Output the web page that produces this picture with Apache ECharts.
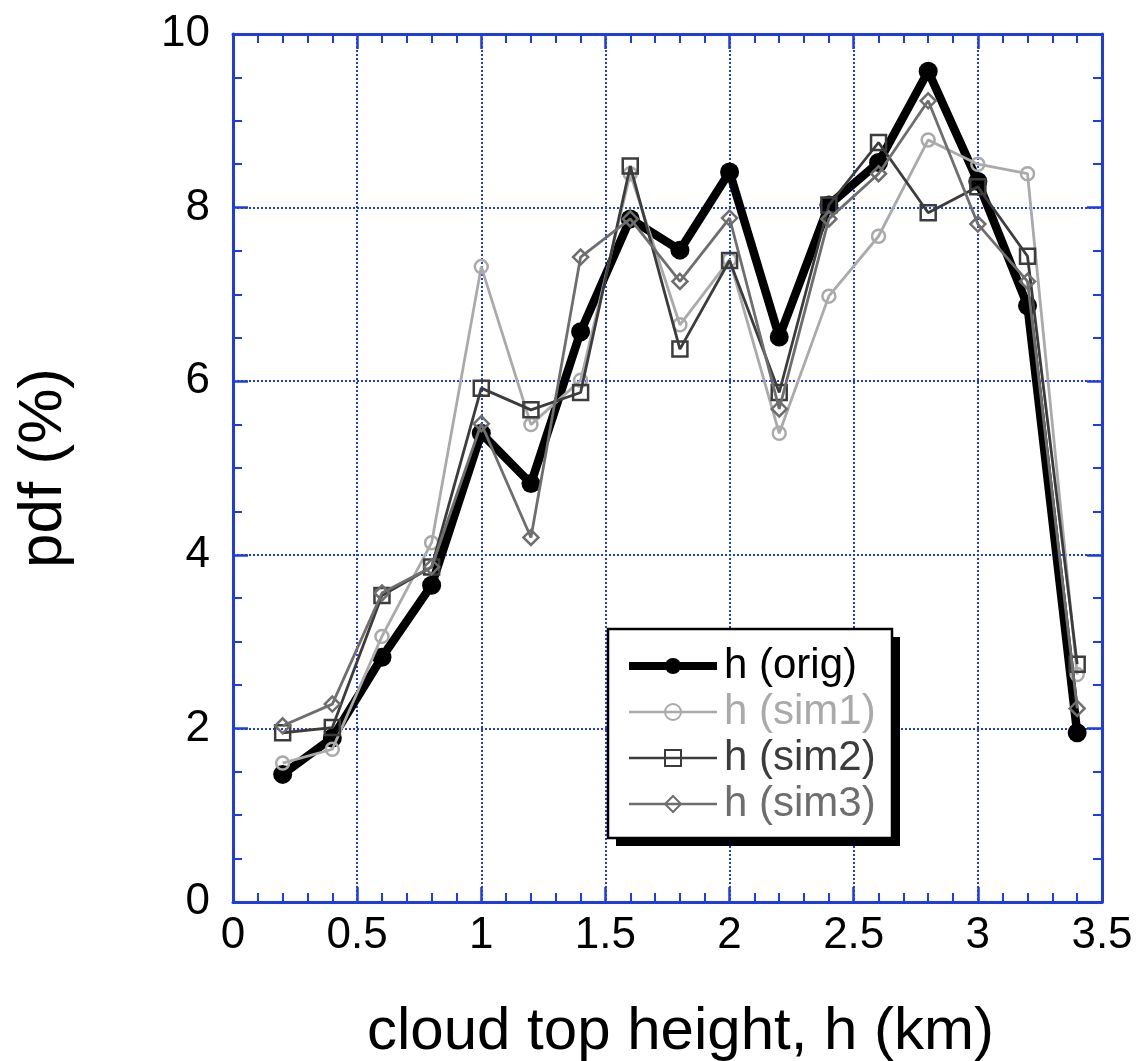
<!DOCTYPE html>
<html>
<head>
<meta charset="utf-8">
<script src="https://cdn.jsdelivr.net/npm/echarts@6/dist/echarts.min.js"></script>
<style>
html,body{margin:0;padding:0;background:#fff;}
#chart{width:1141px;height:1061px;}
</style>
</head>
<body>
<div id="chart"></div>
<script>
// cloud top height (km)
const heights = [0.2, 0.4, 0.6, 0.8, 1.0, 1.2, 1.4, 1.6, 1.8, 2.0, 2.2, 2.4, 2.6, 2.8, 3.0, 3.2, 3.4];
// pdf (%)
const hOrig = [1.47, 1.89, 2.82, 3.65, 5.40, 4.82, 6.57, 7.87, 7.51, 8.41, 6.51, 8.03, 8.52, 9.57, 8.30, 6.87, 1.95];
const hSim1 = [1.60, 1.76, 3.06, 4.14, 7.32, 5.50, 6.01, 8.39, 6.65, 7.40, 5.40, 6.98, 7.67, 8.78, 8.50, 8.39, 2.62];
const hSim2 = [1.95, 2.01, 3.53, 3.86, 5.92, 5.67, 5.87, 8.48, 6.37, 7.39, 5.87, 8.03, 8.75, 7.94, 8.24, 7.44, 2.74];
const hSim3 = [2.03, 2.28, 3.56, 3.86, 5.51, 4.20, 7.43, 7.87, 7.15, 7.88, 5.68, 7.87, 8.39, 9.23, 7.81, 7.15, 2.23];
const seriesNames = ['h (orig)', 'h (sim1)', 'h (sim2)', 'h (sim3)'];
const xTickLabels = ['0', '0.5', '1', '1.5', '2', '2.5', '3', '3.5'];
const yTickLabels = ['0', '2', '4', '6', '8', '10'];

const FONT = '"Liberation Sans", Arial, sans-serif';
const BLUE = '#1e3ce6';
const C_ORIG = '#000000', C_SIM1 = '#aaaaaa', C_SIM2 = '#3c3c3c', C_SIM3 = '#6e6e6e';
const pair = arr => heights.map((x, i) => [x, arr[i]]);

const axisCommon = {
  axisLine: { show: true, onZero: false, lineStyle: { color: BLUE, width: 3 } },
  axisTick: { show: true, inside: true, length: 15, lineStyle: { color: BLUE, width: 2.5 } },
  minorTick: { show: true, splitNumber: 5, length: 9, lineStyle: { color: BLUE, width: 2 } },
  splitLine: { show: false },
  minorSplitLine: { show: false }
};

const option = {
  backgroundColor: '#fff',
  animation: false,
  grid: { left: 233, right: 39, top: 34, bottom: 159, containLabel: false, outerBoundsMode: 'none' },
  xAxis: [
    Object.assign({}, axisCommon, {
      type: 'value', position: 'bottom', min: 0, max: 3.5, interval: 0.5,
      name: 'cloud top height, h (km)', nameLocation: 'middle', nameGap: 100,
      nameTextStyle: { fontFamily: FONT, fontSize: 60, color: '#000', padding: [0, 0, 0, 26] },
      axisLabel: { fontFamily: FONT, fontSize: 44, color: '#000', margin: 12,
        formatter: v => xTickLabels[Math.round(v / 0.5)] },
      splitLine: { show: true, lineStyle: { color: BLUE, width: 2, type: [2, 2] } }
    }),
    Object.assign({}, axisCommon, {
      type: 'value', position: 'top', min: 0, max: 3.5, interval: 0.5,
      axisLabel: { show: false }
    })
  ],
  yAxis: [
    Object.assign({}, axisCommon, {
      type: 'value', position: 'left', min: 0, max: 10, interval: 2,
      minorTick: { show: true, splitNumber: 4, length: 9, lineStyle: { color: BLUE, width: 2 } },
      name: 'pdf (%)', nameLocation: 'middle', nameGap: 158, nameRotate: 90,
      nameTextStyle: { fontFamily: FONT, fontSize: 62, color: '#000' },
      axisLabel: { fontFamily: FONT, fontSize: 44, color: '#000', margin: 23,
        formatter: v => yTickLabels[Math.round(v / 2)] },
      splitLine: { show: true, lineStyle: { color: BLUE, width: 2, type: [2, 2] } }
    }),
    Object.assign({}, axisCommon, {
      type: 'value', position: 'right', min: 0, max: 10, interval: 2,
      minorTick: { show: true, splitNumber: 4, length: 9, lineStyle: { color: BLUE, width: 2 } },
      axisLabel: { show: false }
    })
  ],
  graphic: [
    { type: 'rect', z: 6, shape: { x: 616, y: 637, width: 284, height: 209 },
      style: { fill: '#000' } },
    { type: 'rect', z: 6, shape: { x: 608, y: 629, width: 284, height: 209 },
      style: { fill: '#fff', stroke: '#000', lineWidth: 2.5 } }
  ],
  legend: {
    z: 8,
    orient: 'vertical',
    left: 608, top: 629,
    padding: [14, 10, 10, 17],
    itemGap: 0,
    itemWidth: 88, itemHeight: 20,
    textStyle: { fontFamily: FONT, fontSize: 42, lineHeight: 46, padding: [0, 0, 0, 2] },
    data: [
      { name: seriesNames[0], textStyle: { color: C_ORIG }, lineStyle: { width: 8 } },
      { name: seriesNames[1], textStyle: { color: C_SIM1 }, lineStyle: { width: 2.5 } },
      { name: seriesNames[2], textStyle: { color: C_SIM2 }, lineStyle: { width: 2.5 } },
      { name: seriesNames[3], textStyle: { color: C_SIM3 }, lineStyle: { width: 2.5 } }
    ]
  },
  series: [
    {
      name: seriesNames[0], type: 'line', data: pair(hOrig), z: 2,
      symbol: 'circle', symbolSize: 19,
      itemStyle: { color: C_ORIG },
      lineStyle: { color: C_ORIG, width: 8.5 }
    },
    {
      name: seriesNames[1], type: 'line', data: pair(hSim1), z: 3,
      symbol: 'circle', symbolSize: 13,
      itemStyle: { color: 'rgba(255,255,255,0)', borderColor: C_SIM1, borderWidth: 2.5 },
      lineStyle: { color: C_SIM1, width: 2.8 }
    },
    {
      name: seriesNames[2], type: 'line', data: pair(hSim2), z: 4,
      symbol: 'rect', symbolSize: 15,
      itemStyle: { color: 'rgba(255,255,255,0)', borderColor: C_SIM2, borderWidth: 2.5 },
      lineStyle: { color: C_SIM2, width: 2.8 }
    },
    {
      name: seriesNames[3], type: 'line', data: pair(hSim3), z: 5,
      symbol: 'diamond', symbolSize: 15,
      itemStyle: { color: 'rgba(255,255,255,0)', borderColor: C_SIM3, borderWidth: 2.5 },
      lineStyle: { color: C_SIM3, width: 2.8 }
    }
  ]
};

const chart = echarts.init(document.getElementById('chart'), null, { renderer: 'canvas' });
chart.setOption(option);
</script>
</body>
</html>
